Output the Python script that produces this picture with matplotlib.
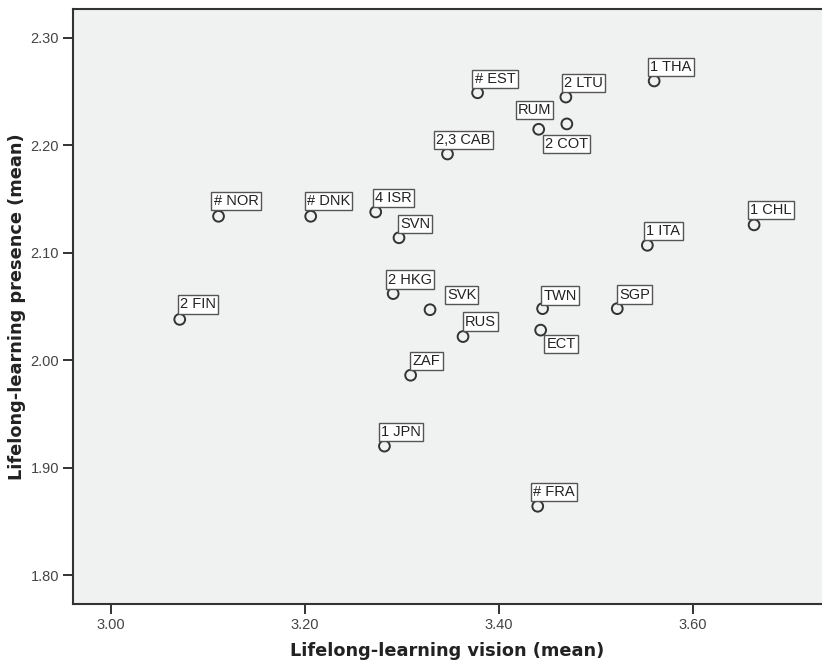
import matplotlib.pyplot as plt

plt.rcParams.update({
    'font.family': 'Liberation Sans',
    'font.size': 10,
})

# country means
countries = ['2 FIN', '# NOR', '# DNK', '4 ISR', 'SVN', '2,3 CAB', '# EST', 'RUM',
             '2 LTU', '2 COT', '1 THA', '1 CHL', '1 ITA', 'SGP', 'TWN', 'ECT',
             '2 HKG', 'SVK', 'RUS', 'ZAF', '1 JPN', '# FRA']
vision = [3.071, 3.111, 3.206, 3.273, 3.297, 3.347, 3.378, 3.441,
          3.469, 3.470, 3.560, 3.663, 3.553, 3.522, 3.445, 3.443,
          3.291, 3.329, 3.363, 3.309, 3.282, 3.440]
presence = [2.038, 2.134, 2.134, 2.138, 2.114, 2.192, 2.249, 2.215,
            2.245, 2.220, 2.260, 2.126, 2.107, 2.048, 2.048, 2.028,
            2.062, 2.047, 2.022, 1.986, 1.920, 1.864]

# label box corner offsets in pixels (dx, dy); negative dy = box hangs below the point
label_offsets = {
    '2 FIN': (-2, 6), '# NOR': (-7, 6), '# DNK': (-6, 6), '4 ISR': (-3, 5),
    'SVN': (-1, 5), '2,3 CAB': (-13, 5), '# EST': (-5, 5), 'RUM': (-23, 10),
    '2 LTU': (-4, 5), '2 COT': (-24, -11), '1 THA': (-6, 5), '1 CHL': (-6, 6),
    '1 ITA': (-3, 5), 'SGP': (0, 5), 'TWN': (-1, 4), 'ECT': (4, -5),
    '2 HKG': (-7, 5), 'SVK': (15, 6), 'RUS': (0, 6), 'ZAF': (0, 5),
    '1 JPN': (-5, 5), '# FRA': (-7, 5),
}

fig = plt.figure(figsize=(8.22, 6.6), dpi=100)
ax = fig.add_axes([73 / 822, 1 - 604 / 660, 1 - 73 / 822, (604 - 9) / 660])
ax.set_facecolor('#f0f1f1')

ax.scatter(vision, presence, s=60, facecolors='none', edgecolors='#333333',
           linewidths=1.4, zorder=3)

pad = 2
for name, xv, yv in zip(countries, vision, presence):
    dx, dy = label_offsets[name]
    if dy >= 0:
        off, va = (dx + pad, dy + pad), 'bottom'
    else:
        off, va = (dx + pad, dy - pad), 'top'
    ax.annotate(name, (xv, yv), xytext=off, textcoords='offset pixels',
                ha='left', va=va, fontsize=10.5, color='#222222', zorder=4,
                bbox=dict(boxstyle='square,pad=0.15', facecolor='white',
                          edgecolor='#555555', linewidth=1.0))

ax.set_xlim(2.961, 3.733)
ax.set_ylim(1.773, 2.327)
ax.set_xticks([3.00, 3.20, 3.40, 3.60])
ax.set_yticks([1.80, 1.90, 2.00, 2.10, 2.20, 2.30])
ax.xaxis.set_major_formatter(plt.FormatStrFormatter('%.2f'))
ax.yaxis.set_major_formatter(plt.FormatStrFormatter('%.2f'))
ax.tick_params(length=7, width=1.4, color='#333333', labelcolor='#444444',
               labelsize=10.5, pad=3)

for side in ['left', 'bottom', 'top']:
    ax.spines[side].set_color('#333333')
    ax.spines[side].set_linewidth(1.5)
ax.spines['right'].set_visible(False)

ax.set_xlabel('Lifelong-learning vision (mean)', fontfamily='DejaVu Sans',
              fontweight='bold', fontsize=12.8, color='#222222', labelpad=7)
ax.set_ylabel('Lifelong-learning presence (mean)', fontfamily='DejaVu Sans',
              fontweight='bold', fontsize=12.8, color='#222222', labelpad=3)

fig.savefig('out.png', dpi=100, facecolor='white')
